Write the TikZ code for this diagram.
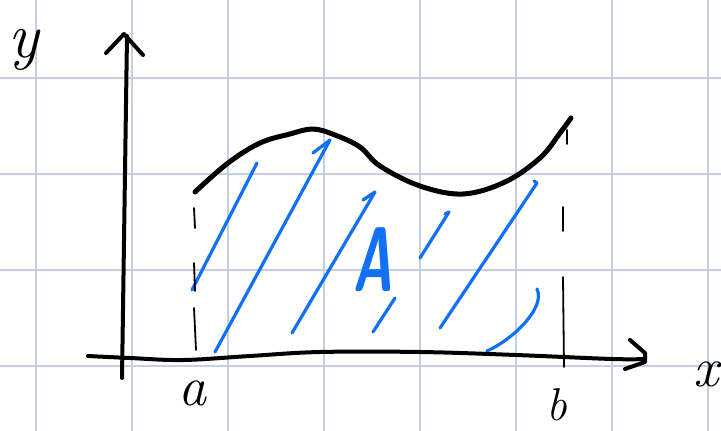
\documentclass[tikz,border=0pt]{standalone}
\usepackage{fontspec}
\begin{document}
\begin{tikzpicture}[x=1pt,y=-1pt,
  gridline/.style={draw=gridc, line width=1.6pt},
  ink/.style={draw=black, line width=5pt, line cap=round, line join=round},
  axisline/.style={draw=black, line width=4pt, line cap=round, line join=round},
  guide/.style={draw=black, line width=1.8pt, line cap=round},
  hatch/.style={draw=hatchc, line width=3.2pt, line cap=round, line join=round},
  lab/.style={inner sep=0pt, text=black, font=\itshape\fontsize{56}{56}\selectfont}]
\definecolor{gridc}{RGB}{196,207,225}
\definecolor{hatchc}{RGB}{18,112,245}
\useasboundingbox (0,0) rectangle (721,431);
\fill[white] (0,0) rectangle (721,431);
% grid
\foreach \gx in {36,132,228,324,420,516,612,708} \draw[gridline] (\gx,0) -- (\gx,431);
\foreach \gy in {78,174,270,366} \draw[gridline] (0,\gy) -- (721,\gy);
% hatching
\draw[hatch] (192,290) -- (257,163);
\draw[hatch] (215,352) -- (330,140) -- (313,153);
\draw[hatch] (292,333) -- (375,192) -- (363,200);
\draw[hatch] (373,332) -- (395,298);
\draw[hatch] (420,258) -- (449,212) -- (445,214);
\draw[hatch] (440,328) -- (537,183) -- (534,181);
\draw[hatch] (487,351) .. controls (512,340) and (546,308) .. (537,289);
% guide lines at a and b
\draw[guide] (194,208) -- (195,228);
\draw[guide] (194,263) -- (195,291);
\draw[guide] (194,308) -- (196,350);
\draw[guide] (567,130) -- (567,144);
\draw[guide] (563,207) -- (563,231);
\draw[guide] (563,277) -- (564,367);
% axes
\draw[axisline] (122,378) -- (127,36);
\draw[axisline] (106,53) -- (124,34) -- (143,55);
\draw[axisline] plot[smooth, tension=0.6] coordinates {(88,356) (130,358) (183,360) (250,356) (320,352) (420,352) (516,355) (612,359) (645,359)};
\draw[axisline] (630,340) -- (645,353) -- (645,362) -- (625,369);
% curve
\draw[ink] plot[smooth, tension=0.6] coordinates {(195,192) (228,163) (260,143) (290,134) (313,129) (335,135) (360,147) (380,166) (420,186) (463,194) (505,182) (540,158) (560,133) (571,118)};
% labels
\node[lab, font=\itshape\fontsize{64}{64}\selectfont] (ylab) at (24,50) {y};
\node[lab] (alab) at (192,393) {a};
\node[lab, font=\itshape\fontsize{46}{46}\selectfont] (blab) at (557,405) {b};
\node[lab, font=\itshape\fontsize{56}{56}\selectfont] (xlab) at (706,374) {x};
\node[inner sep=0pt, text=hatchc, xscale=0.58, font=\sffamily\bfseries\itshape\fontsize{92}{92}\selectfont] (alabel) at (373,260) {A};
\end{tikzpicture}
\end{document}
